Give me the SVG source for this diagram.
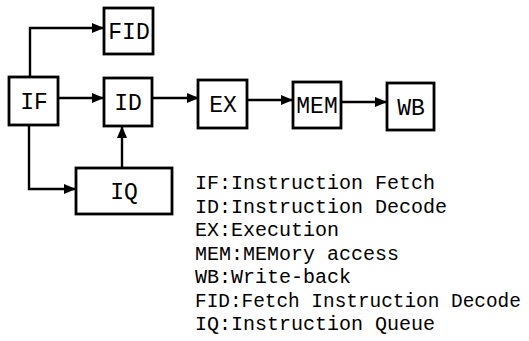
<svg xmlns="http://www.w3.org/2000/svg" width="529" height="341" viewBox="0 0 529 341">
<defs>
<style>
.box{fill:#fff;stroke:#000;stroke-width:2.8}
.lbl{font-family:"Liberation Mono","Courier New",monospace;font-size:23px;fill:#000;text-anchor:middle}
.leg{font-family:"Liberation Mono","Courier New",monospace;font-size:20px;fill:#000}
.con{fill:none;stroke:#000;stroke-width:2.4}
</style>
<marker id="ah" markerWidth="12" markerHeight="10" refX="11" refY="5" orient="auto" markerUnits="userSpaceOnUse">
<path d="M0,0 L12,5 L0,10 Z" fill="#000"/>
</marker>
</defs>
<rect width="529" height="341" fill="#fff"/>
<g id="connectors">
<path class="con" d="M30,77 V28 H103" marker-end="url(#ah)"/>
<path class="con" d="M58,98 H103" marker-end="url(#ah)"/>
<path class="con" d="M152,98 H198" marker-end="url(#ah)"/>
<path class="con" d="M247,100 H292" marker-end="url(#ah)"/>
<path class="con" d="M341,102 H386" marker-end="url(#ah)"/>
<path class="con" d="M29,125 V189 H75" marker-end="url(#ah)"/>
<path class="con" d="M122,168 V127" marker-end="url(#ah)"/>
</g>
<g id="FID"><rect class="box" x="104" y="8" width="49" height="46"/><text class="lbl" x="129" y="39">FID</text></g>
<g id="IF"><rect class="box" x="9" y="77" width="49" height="48"/><text class="lbl" x="34" y="109">IF</text></g>
<g id="ID"><rect class="box" x="104" y="78" width="48" height="48"/><text class="lbl" x="128" y="110">ID</text></g>
<g id="EX"><rect class="box" x="198" y="80" width="49" height="48"/><text class="lbl" x="223" y="112">EX</text></g>
<g id="MEM"><rect class="box" x="293" y="82" width="48" height="46"/><text class="lbl" x="317" y="113">MEM</text></g>
<g id="WB"><rect class="box" x="387" y="83" width="47" height="47"/><text class="lbl" x="411" y="115">WB</text></g>
<g id="IQ"><rect class="box" x="76" y="168" width="96" height="46"/><text class="lbl" x="124" y="199">IQ</text></g>
<g id="legend">
<text class="leg" x="195" y="189">IF:Instruction Fetch</text>
<text class="leg" x="195" y="212.5">ID:Instruction Decode</text>
<text class="leg" x="195" y="236">EX:Execution</text>
<text class="leg" x="195" y="259.5">MEM:MEMory access</text>
<text class="leg" x="195" y="283">WB:Write-back</text>
<text class="leg" x="195" y="306.5" style="font-size:19.4px">FID:Fetch Instruction Decode</text>
<text class="leg" x="195" y="330">IQ:Instruction Queue</text>
</g>
</svg>
